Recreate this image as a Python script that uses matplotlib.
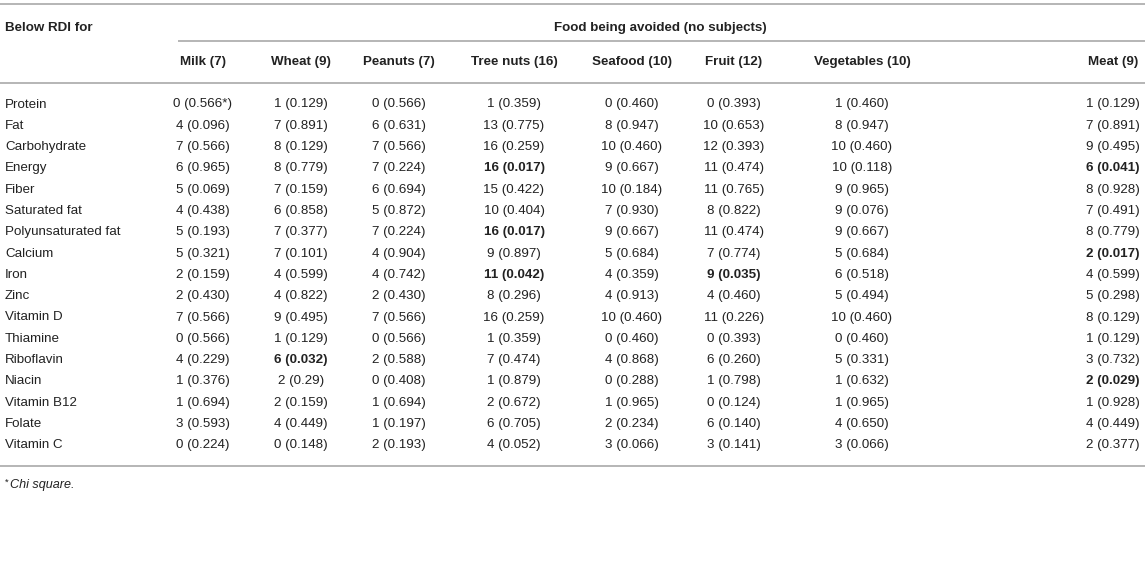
"""Table: nutrients below RDI by food avoided (count and p-value)."""

import matplotlib

matplotlib.use("Agg")
import matplotlib.pyplot as plt

plt.rcParams["font.family"] = ["Liberation Sans", "DejaVu Sans"]

nutrients = [
    "Protein", "Fat", "Carbohydrate", "Energy", "Fiber", "Saturated fat",
    "Polyunsaturated fat", "Calcium", "Iron", "Zinc", "Vitamin D", "Thiamine",
    "Riboflavin", "Niacin", "Vitamin B12", "Folate", "Vitamin C",
]
foods = ["Milk (7)", "Wheat (9)", "Peanuts (7)", "Tree nuts (16)", "Seafood (10)",
         "Fruit (12)", "Vegetables (10)", "Meat (9)"]

milk_n = [0, 4, 7, 6, 5, 4, 5, 5, 2, 2, 7, 0, 4, 1, 1, 3, 0]
milk_p = ["0.566*", "0.096", "0.566", "0.965", "0.069", "0.438", "0.193", "0.321", "0.159",
          "0.430", "0.566", "0.566", "0.229", "0.376", "0.694", "0.593", "0.224"]
wheat_n = [1, 7, 8, 8, 7, 6, 7, 7, 4, 4, 9, 1, 6, 2, 2, 4, 0]
wheat_p = ["0.129", "0.891", "0.129", "0.779", "0.159", "0.858", "0.377", "0.101", "0.599",
           "0.822", "0.495", "0.129", "0.032", "0.29", "0.159", "0.449", "0.148"]
peanuts_n = [0, 6, 7, 7, 6, 5, 7, 4, 4, 2, 7, 0, 2, 0, 1, 1, 2]
peanuts_p = ["0.566", "0.631", "0.566", "0.224", "0.694", "0.872", "0.224", "0.904", "0.742",
             "0.430", "0.566", "0.566", "0.588", "0.408", "0.694", "0.197", "0.193"]
treenuts_n = [1, 13, 16, 16, 15, 10, 16, 9, 11, 8, 16, 1, 7, 1, 2, 6, 4]
treenuts_p = ["0.359", "0.775", "0.259", "0.017", "0.422", "0.404", "0.017", "0.897", "0.042",
              "0.296", "0.259", "0.359", "0.474", "0.879", "0.672", "0.705", "0.052"]
seafood_n = [0, 8, 10, 9, 10, 7, 9, 5, 4, 4, 10, 0, 4, 0, 1, 2, 3]
seafood_p = ["0.460", "0.947", "0.460", "0.667", "0.184", "0.930", "0.667", "0.684", "0.359",
             "0.913", "0.460", "0.460", "0.868", "0.288", "0.965", "0.234", "0.066"]
fruit_n = [0, 10, 12, 11, 11, 8, 11, 7, 9, 4, 11, 0, 6, 1, 0, 6, 3]
fruit_p = ["0.393", "0.653", "0.393", "0.474", "0.765", "0.822", "0.474", "0.774", "0.035",
           "0.460", "0.226", "0.393", "0.260", "0.798", "0.124", "0.140", "0.141"]
veg_n = [1, 8, 10, 10, 9, 9, 9, 5, 6, 5, 10, 0, 5, 1, 1, 4, 3]
veg_p = ["0.460", "0.947", "0.460", "0.118", "0.965", "0.076", "0.667", "0.684", "0.518",
         "0.494", "0.460", "0.460", "0.331", "0.632", "0.965", "0.650", "0.066"]
meat_n = [1, 7, 9, 6, 8, 7, 8, 2, 4, 5, 8, 1, 3, 2, 1, 4, 2]
meat_p = ["0.129", "0.891", "0.495", "0.041", "0.928", "0.491", "0.779", "0.017", "0.599",
          "0.298", "0.129", "0.129", "0.732", "0.029", "0.928", "0.449", "0.377"]

# (row, column) cells printed in bold in the source table
bold_cells = [(3, 3), (3, 7), (6, 3), (7, 7), (8, 3), (8, 5), (12, 1), (13, 7)]

columns = [
    (milk_n, milk_p), (wheat_n, wheat_p), (peanuts_n, peanuts_p), (treenuts_n, treenuts_p),
    (seafood_n, seafood_p), (fruit_n, fruit_p), (veg_n, veg_p), (meat_n, meat_p),
]

# ---- layout (pixel coordinates, y downward)
W, H = 1145, 577
col_x = [203, 301, 399, 514, 632, 734, 862, 1113]
label_x = 5
row_y0, row_dy = 104.5, 21.3
text_color = "#222222"
line_color = "#b0b0b0"
fs = 9.6

fig = plt.figure(figsize=(W / 100, H / 100), dpi=100)
ax = fig.add_axes([0, 0, 1, 1])
ax.set_xlim(0, W)
ax.set_ylim(H, 0)
ax.axis("off")

for y, x0 in [(3.5, 0), (41, 178), (83, 0), (466, 0)]:
    ax.plot([x0, W], [y, y], color=line_color, lw=1.3, solid_capstyle="butt")

ax.text(label_x, 28, "Below RDI for", fontsize=fs, fontweight="bold",
        color=text_color, va="center", ha="left")
ax.text(660, 28, "Food being avoided (no subjects)", fontsize=fs, fontweight="bold",
        color=text_color, va="center", ha="center")
for x, name in zip(col_x, foods):
    ax.text(x, 62, name, fontsize=fs, fontweight="bold", color=text_color,
            va="center", ha="center")

for i, name in enumerate(nutrients):
    y = row_y0 + i * row_dy
    ax.text(label_x, y, name, fontsize=fs, color=text_color, va="center", ha="left")
    for j, (counts, pvals) in enumerate(columns):
        weight = "bold" if (i, j) in bold_cells else "normal"
        ax.text(col_x[j], y, f"{counts[i]} ({pvals[i]})", fontsize=fs,
                fontweight=weight, color=text_color, va="center", ha="center")

# footnote: small raised asterisk then italic text
ax.text(label_x, 482, "*", fontsize=fs * 0.7, color=text_color, va="center", ha="left")
ax.text(label_x + 5, 485, "Chi square.", fontsize=fs * 0.95, fontstyle="italic",
        color=text_color, va="center", ha="left")

fig.savefig("out.png", dpi=100)
plt.close(fig)
